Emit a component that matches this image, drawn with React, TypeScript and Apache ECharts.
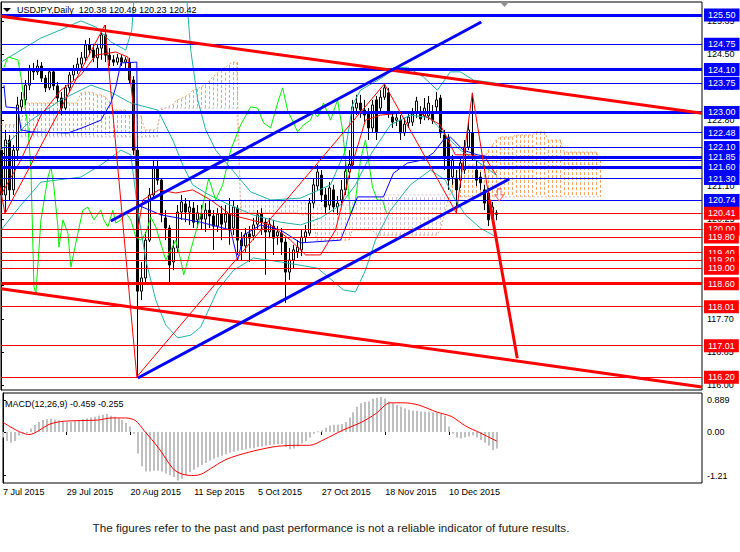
import React, { useEffect, useRef } from 'react';
import * as echarts from 'echarts';

const FONT = '"Liberation Sans", Arial, sans-serif';

const titleSymbol = 'USDJPY,Daily';
const titleOhlc = '120.38 120.49 120.23 120.42';
const macdTitle = 'MACD(12,26,9) -0.459 -0.255';
const disclaimer = 'The figures refer to the past and past performance is not a reliable indicator of future results.';

const dateLabels = ['7 Jul 2015', '29 Jul 2015', '20 Aug 2015', '11 Sep 2015', '5 Oct 2015', '27 Oct 2015', '18 Nov 2015', '10 Dec 2015'];
const dateTickIdx = [0, 16, 32, 48, 64, 80, 96, 112];
const priceTicks = [116.0, 116.85, 117.7, 118.55, 119.4, 120.25, 121.1, 121.95, 122.8, 123.65, 124.5, 125.35];
// tick labels that stay visible (the others are fully covered by level tags)
const priceTickLabels = [116.0, 116.85, 117.7, 120.25, 121.1, 122.8, 123.65, 124.5, 125.35];
const macdTicks = [0.889, 0.0, -1.21];
const macdTickText = ['0.889', '0.00', '-1.21'];

// open, close, low, high
const candles = [
  [122.03, 120.88, 120.42, 122.68], [120.88, 122.29, 120.40, 122.55], [122.29, 121.01, 120.75, 122.42], [121.01, 122.03, 120.88, 122.16],
  [122.03, 123.19, 121.78, 123.40], [123.14, 123.32, 123.01, 123.52], [123.32, 123.70, 123.19, 123.83], [123.70, 124.09, 123.57, 124.22],
  [124.09, 124.04, 123.83, 124.27], [124.04, 124.19, 123.96, 124.35], [124.19, 123.88, 123.78, 124.29], [123.88, 123.63, 123.52, 123.96],
  [123.63, 124.04, 123.57, 124.14], [124.04, 123.68, 123.57, 124.09], [123.68, 123.37, 123.27, 123.78], [123.37, 123.11, 122.93, 123.52],
  [123.11, 123.63, 123.06, 123.70], [123.63, 123.96, 123.52, 124.04], [123.96, 124.09, 123.83, 124.22], [124.09, 124.24, 123.99, 124.40],
  [124.24, 124.40, 124.14, 124.55], [124.40, 124.73, 124.29, 124.86], [124.73, 124.60, 124.47, 124.91], [124.60, 124.40, 124.29, 124.76],
  [124.40, 124.65, 124.09, 124.76], [124.65, 124.99, 124.35, 125.12], [124.99, 124.47, 124.29, 125.24], [124.47, 124.35, 124.19, 124.65],
  [124.35, 124.29, 124.19, 124.47], [124.29, 124.40, 124.22, 124.50], [124.40, 124.29, 124.19, 124.47], [124.29, 124.35, 124.14, 124.42],
  [124.29, 123.83, 123.73, 124.40], [123.83, 122.03, 121.91, 123.93], [122.03, 118.41, 116.21, 122.16], [118.41, 118.75, 118.18, 119.16],
  [118.75, 119.72, 118.57, 119.93], [119.72, 120.88, 119.67, 121.06], [120.88, 121.57, 120.80, 121.78], [121.57, 121.26, 121.14, 121.78],
  [121.26, 120.37, 120.18, 121.31], [120.29, 120.03, 119.72, 120.49], [120.03, 119.08, 118.62, 120.11], [119.16, 119.52, 118.95, 119.72],
  [119.52, 120.44, 119.42, 120.62], [120.44, 120.70, 120.24, 120.88], [120.65, 120.44, 120.18, 120.80], [120.44, 120.57, 120.11, 120.75],
  [120.54, 120.18, 120.03, 120.70], [120.24, 120.42, 120.03, 120.62], [120.39, 120.26, 119.98, 120.62], [120.26, 120.49, 119.93, 120.67],
  [120.49, 120.34, 120.03, 120.75], [120.34, 120.08, 119.47, 120.49], [120.08, 120.39, 119.93, 120.54], [120.39, 120.13, 119.72, 120.60],
  [120.18, 120.39, 120.03, 120.62], [120.39, 119.98, 119.60, 120.80], [120.03, 120.57, 119.85, 120.75], [120.54, 119.72, 119.34, 120.62],
  [119.72, 119.57, 119.21, 119.93], [119.57, 119.88, 119.42, 120.03], [119.88, 119.77, 119.16, 120.08], [119.83, 120.11, 119.72, 120.29],
  [120.13, 120.37, 119.98, 120.49], [120.39, 120.18, 119.85, 120.54], [120.18, 119.93, 118.83, 120.29], [119.93, 120.13, 119.77, 120.29],
  [120.08, 119.77, 119.34, 120.24], [119.83, 119.93, 119.60, 120.08], [119.90, 119.67, 119.34, 120.03], [119.67, 118.90, 118.11, 119.77],
  [118.90, 119.21, 118.70, 119.52], [119.21, 119.47, 119.00, 119.60], [119.42, 119.54, 119.26, 119.72], [119.47, 119.80, 119.31, 119.98],
  [119.80, 119.93, 119.67, 120.11], [119.90, 120.67, 119.83, 120.80], [120.67, 121.14, 120.54, 121.31], [121.11, 121.47, 121.01, 121.65],
  [121.39, 120.88, 120.70, 121.52], [120.88, 120.57, 120.37, 121.06], [120.62, 121.06, 120.49, 121.21], [121.01, 120.57, 120.44, 121.14],
  [120.57, 120.67, 120.37, 120.85], [120.75, 121.01, 120.62, 121.26], [121.01, 121.49, 120.88, 121.78], [121.47, 121.67, 121.31, 122.03],
  [121.65, 123.14, 121.57, 123.32], [123.11, 123.24, 122.93, 123.45], [123.24, 123.06, 122.86, 123.45], [123.06, 122.93, 122.75, 123.32],
  [123.01, 122.60, 122.29, 123.11], [122.60, 123.19, 122.50, 123.32], [123.32, 122.50, 122.29, 123.42], [123.11, 123.39, 123.01, 123.57],
  [123.39, 123.63, 123.32, 123.73], [123.50, 123.01, 122.86, 123.63], [122.88, 122.75, 122.60, 123.01], [122.80, 122.86, 122.65, 122.96],
  [122.80, 122.47, 122.29, 122.93], [122.47, 122.70, 122.39, 122.86], [122.73, 122.88, 122.60, 123.01], [122.75, 122.96, 122.65, 123.11],
  [122.98, 123.29, 122.86, 123.40], [123.01, 122.83, 122.70, 123.16], [122.91, 123.11, 122.80, 123.37], [122.91, 123.24, 122.80, 123.42],
  [122.98, 122.80, 122.70, 123.19], [123.14, 123.32, 123.01, 123.52], [123.37, 122.47, 122.34, 123.45], [122.42, 121.88, 121.52, 122.55],
  [122.34, 121.26, 121.01, 122.44], [121.34, 121.78, 121.14, 121.91], [121.31, 121.01, 120.42, 121.52], [121.26, 121.70, 121.06, 121.83],
  [121.52, 122.11, 121.42, 122.29], [122.11, 122.55, 122.03, 122.75], [122.47, 121.91, 121.78, 123.50], [121.52, 121.26, 121.11, 121.78],
  [121.34, 121.19, 121.01, 121.47], [121.01, 120.67, 120.49, 121.14], [120.93, 120.24, 120.08, 121.06], [120.29, 120.57, 120.13, 120.70],
  [120.38, 120.42, 120.23, 120.49],
];

// Ichimoku cloud spans, one value per bar (cloud runs 26 bars ahead)
const spanA = [
  122.68, 122.68, 122.68, 122.68, 122.68, 122.68, 123.24, 123.24, 123.24, 123.24,
  123.24, 123.24, 123.24, 123.24, 123.24, 123.24, 123.24, 123.24, 123.24, 123.24,
  123.50, 123.52, 123.52, 123.50, 123.45, 123.45, 123.40, 123.30, 123.06, 123.06,
  123.06, 123.06, 122.91, 122.91, 122.91, 122.91, 122.55, 122.55, 122.55, 122.55,
  123.06, 123.10, 123.15, 123.20, 123.32, 123.35, 123.40, 123.45, 123.57, 123.60,
  123.65, 123.70, 123.80, 123.90, 124.00, 124.09, 124.15, 124.22, 124.29, 124.29,
  120.42, 120.42, 120.42, 120.42, 120.42, 120.42, 120.42, 120.42, 120.42, 120.42,
  120.42, 120.42, 120.42, 120.42, 120.42, 120.37, 120.37, 120.37, 120.37, 119.72,
  119.72, 119.72, 119.72, 119.72, 119.72, 119.72, 119.72, 119.72, 119.98, 119.98,
  119.98, 119.98, 119.98, 119.98, 119.85, 119.85, 119.85, 119.85, 119.85, 119.85,
  119.85, 119.85, 119.85, 119.85, 119.85, 119.85, 119.85, 119.85, 119.85, 119.85,
  119.98, 120.37, 120.75, 121.14, 121.39, 121.65, 121.65, 121.65, 121.65, 121.65,
  121.65, 121.78, 122.03, 122.16, 122.29, 122.37, 122.37, 122.37, 122.37, 122.42,
  122.42, 122.42, 122.42, 122.42, 122.50, 122.50, 122.50, 122.29, 122.29, 122.29,
  122.29, 121.98, 121.98, 121.98, 121.98, 121.98, 121.98, 121.98, 121.98, 121.98,
  121.78,
];
const spanB = [
  122.37, 122.37, 122.37, 122.37, 122.37, 122.37, 122.37, 122.37, 122.37, 122.37,
  122.37, 122.37, 122.37, 122.37, 122.37, 122.37, 122.37, 122.37, 122.37, 122.37,
  122.37, 122.37, 122.37, 122.37, 122.37, 122.37, 122.37, 122.37, 122.37, 122.37,
  122.37, 122.37, 122.37, 122.37, 122.37, 122.37, 122.37, 122.37, 122.37, 122.37,
  123.11, 123.11, 123.11, 123.11, 123.11, 123.11, 123.11, 123.11, 123.11, 123.11,
  123.11, 123.11, 123.11, 123.11, 123.11, 123.11, 123.11, 123.11, 123.11, 123.11,
  120.75, 120.75, 120.75, 120.75, 120.75, 120.75, 120.75, 120.75, 120.75, 120.75,
  120.75, 120.75, 120.75, 120.75, 120.75, 120.70, 120.70, 120.70, 120.70, 120.62,
  120.62, 120.62, 120.62, 120.62, 120.62, 120.62, 120.62, 120.62, 120.75, 120.75,
  120.75, 120.75, 120.75, 120.75, 120.88, 120.88, 120.88, 120.88, 120.88, 120.88,
  120.88, 120.88, 120.88, 120.88, 120.88, 120.88, 120.88, 120.88, 120.88, 120.88,
  120.88, 120.88, 120.88, 120.88, 120.88, 120.83, 120.83, 120.83, 120.83, 120.83,
  120.83, 120.83, 120.83, 120.83, 120.83, 120.83, 120.83, 120.83, 120.83, 120.83,
  120.83, 120.83, 120.83, 120.83, 120.83, 120.83, 120.83, 120.83, 120.83, 120.83,
  120.83, 120.83, 120.83, 120.83, 120.83, 120.83, 120.83, 120.83, 120.83, 120.83,
  120.83,
];

// indicator curves: [bar, price]
const bbUpper = [[0, 124.29], [5, 124.6], [10, 124.91], [15, 125.12], [20, 125.35], [23.75, 125.19], [27.5, 124.81], [31.25, 124.6], [32.75, 125.12], [34, 126.91], [45.75, 126.91], [47.5, 124.6], [49.25, 123.32], [51.25, 122.55], [53.75, 122.03], [57.5, 121.57], [62.5, 120.96], [67.5, 120.75], [75, 120.8], [82.5, 121.14], [86.25, 122.03], [88, 123.19], [90, 123.57], [95.75, 123.91], [98.25, 124.14], [101.75, 124.16], [105.75, 123.91], [109.25, 123.57], [112.5, 124.04], [115, 124.04], [118.25, 123.83], [124, 123.75]];
const bbMiddle = [[0, 122.03], [7.5, 122.8], [15, 123.32], [22.5, 123.7], [27.5, 123.52], [32.5, 123.24], [39.25, 123.06], [43, 122.29], [45.5, 121.65], [48, 121.14], [51.25, 120.93], [56.25, 120.67], [63, 120.37], [70, 120.18], [75, 120.11], [80, 120.29], [85, 120.62], [88.75, 121.14], [92.5, 121.91], [97.5, 122.68], [102.5, 122.93], [107.5, 122.86], [111.25, 122.42], [115, 122.03], [118.75, 121.78], [124, 121.39]];
const bbLower = [[0, 119.98], [5, 120.62], [10, 121.21], [20, 121.34], [25, 121.65], [30, 122.03], [32.5, 121.91], [34.25, 120.49], [36.25, 119.21], [38.75, 118.18], [41.25, 117.54], [44.25, 117.21], [47.5, 117.28], [50, 117.49], [54.25, 118.44], [58.25, 118.95], [63.25, 119.26], [70, 119.16], [79.25, 119.0], [85.75, 118.44], [88.75, 118.39], [91.25, 118.95], [93.75, 119.72], [97.5, 120.49], [102.5, 121.14], [107.5, 121.52], [111.25, 121.26], [113.75, 120.75], [116.25, 120.37], [120, 120.03], [124, 119.8]];
const greenLine = [[0.75, 124.16], [1.75, 124.42], [4.25, 124.35], [5, 123.91], [6.75, 122.62], [7.5, 121.52], [8.25, 118.52], [8.75, 118.36], [10, 120.24], [11.75, 121.34], [12.5, 121.6], [13.25, 121.08], [14.25, 120.06], [14.5, 119.54], [15.5, 120.24], [16.75, 119.9], [17.5, 119.03], [19.25, 119.9], [20.5, 120.49], [21.75, 120.57], [23.25, 120.24], [25, 120.49], [25.75, 120.24], [26.75, 120.06], [28, 120.49], [28.75, 120.16], [30, 120.24], [31.25, 120.42], [32.5, 120.24], [33.75, 119.8], [35, 119.72], [36.25, 119.9], [37.5, 120.31], [38.75, 120.06], [41.25, 119.21], [43.75, 119.72], [45, 119.21], [45.75, 118.83], [48, 119.65], [50, 120.37], [52, 121.31], [53.75, 120.75], [55.5, 121.14], [57.5, 122.03], [60, 122.68], [62.5, 123.14], [64.25, 123.11], [65.75, 122.73], [67.5, 122.6], [69.25, 123.24], [70.5, 123.63], [71.75, 123.06], [74.25, 122.5], [75.75, 122.68], [77.5, 122.8], [78.25, 123.01], [79.25, 122.88], [80.75, 123.24], [82.5, 122.8], [84.25, 123.32], [85.5, 122.55], [86.5, 121.52], [87.5, 120.37], [88.75, 120.75], [90, 121.78], [91.25, 122.29], [92, 121.78], [93, 121.08], [94.25, 120.75], [95.5, 120.75], [96.5, 120.42]];
const redAverage = [[0, 120.88], [5, 121.78], [10, 122.93], [15, 123.57], [20, 123.96], [23.75, 124.47], [28.75, 124.55], [31.75, 124.42], [33.25, 123.06], [34.25, 119.98], [35.5, 120.75], [39.5, 121.01], [43.75, 120.93], [48, 121.01], [52.5, 120.75], [57.5, 120.37], [62.5, 120.24], [67.5, 120.11], [72.5, 119.72], [76.25, 119.34], [80, 119.34], [83.75, 119.98], [87.5, 121.52], [91.25, 122.8], [95, 122.93], [100, 122.98], [105, 122.98], [110, 122.68], [113.75, 121.91], [117.5, 121.91], [121.25, 121.83], [124, 121.39]];
const blueAverage = [[0.75, 123.7], [1.25, 123.14], [4.25, 123.11], [5, 122.55], [7.5, 122.5], [16.75, 122.47], [20.75, 122.62], [25, 122.8], [27.5, 123.24], [28.75, 123.65], [30, 124.27], [34, 124.29], [34.25, 120.62], [40, 120.37], [50, 120.18], [57.5, 119.98], [59.25, 119.21], [60.75, 119.85], [65, 120.11], [70, 119.98], [75, 119.65], [85, 119.72], [87.5, 120.37], [89.25, 120.83], [95.75, 120.83], [98.25, 121.44], [101.75, 121.7], [105.75, 121.78], [108.25, 121.96], [110.75, 122.29], [112.5, 122.37], [115.75, 122.03], [119.25, 121.91], [124, 121.83]];

// trend lines and zigzag: [bar, price]
const redUpperTrend = [[0, 125.47], [175.5, 122.98]];
const redLowerTrend = [[0, 118.47], [175.5, 115.95]];
const blueUpperChannel = [[27.5, 120.21], [120.25, 125.32]];
const blueLowerChannel = [[34.25, 116.18], [127.25, 121.29]];
const zigzag = [[-1, 121.5], [1, 120.4], [26, 125.24], [34, 116.21], [96, 123.73], [114, 120.42], [118, 123.5], [122.25, 120.76]];
const projection = [[122.25, 120.76], [129.25, 116.69]];
const sellArrow = [[124.75, 120.88]];

// horizontal levels
const blueLevels = [125.5, 124.75, 124.1, 123.75, 123.0, 122.48, 122.1, 121.85, 121.78, 121.6, 121.3, 120.74];
const redLevels = [120.41, 120.0, 119.8, 119.4, 119.2, 119.0, 118.6, 118.01, 117.01, 116.2];
const thickLevels = [125.5, 124.1, 123.0, 121.85, 121.6, 118.6];
const unlabeledLevels = [121.78];

// MACD
const macdHist = [
  -0.15, -0.25, -0.30, -0.25, -0.10, -0.05, 0.00, 0.10, 0.20, 0.28,
  0.33, 0.36, 0.37, 0.35, 0.32, 0.28, 0.27, 0.28, 0.30, 0.32,
  0.35, 0.38, 0.40, 0.42, 0.45, 0.48, 0.50, 0.45, 0.42, 0.38,
  0.33, 0.25, 0.15, -0.05, -0.60, -0.95, -1.10, -1.10, -1.08, -1.08,
  -1.10, -1.15, -1.20, -1.25, -1.35, -1.30, -1.20, -1.12, -1.05, -0.98,
  -0.92, -0.86, -0.80, -0.74, -0.70, -0.66, -0.62, -0.58, -0.55, -0.52,
  -0.50, -0.48, -0.45, -0.45, -0.42, -0.40, -0.38, -0.36, -0.35, -0.34,
  -0.33, -0.42, -0.48, -0.46, -0.40, -0.32, -0.25, -0.15, -0.05, 0.02,
  0.05, 0.12, 0.18, 0.20, 0.20, 0.22, 0.28, 0.40, 0.55, 0.70,
  0.80, 0.83, 0.85, 0.92, 0.95, 0.97, 0.93, 0.85, 0.80, 0.75,
  0.70, 0.65, 0.62, 0.60, 0.58, 0.57, 0.56, 0.56, 0.55, 0.55,
  0.50, 0.45, 0.15, -0.05, -0.15, -0.18, -0.15, -0.12, -0.10, -0.15,
  -0.22, -0.30, -0.38, -0.50, -0.46,
];
const macdSignal = [[0, 0.27], [6.5, -0.07], [11.8, 0.22], [15.4, 0.3], [23.7, 0.33], [27.3, 0.39], [30.8, 0.39], [33.2, 0.32], [35.5, 0.03], [39.1, -0.45], [42.7, -1.02], [45, -1.17], [48, -1.21], [49.8, -1.17], [52.1, -1.02], [55.7, -0.78], [59.2, -0.64], [64, -0.5], [68.7, -0.4], [73.5, -0.37], [77, -0.37], [80.6, -0.21], [85.3, 0.05], [90, 0.27], [93.6, 0.51], [97.2, 0.81], [100.7, 0.81], [104.3, 0.75], [109, 0.55], [112.6, 0.43], [116.1, 0.17], [119.7, -0.02], [124, -0.255]];

const X_MAX = 175.5;

export default function App() {
  const ref = useRef<HTMLDivElement>(null);

  useEffect(() => {
    const chart = echarts.init(ref.current as HTMLDivElement, null, { renderer: 'svg' });

    const candleData = candles.map((r, i) => [i, r[0], r[1], r[2], r[3]]);
    const cloudData = spanA.map((a, i) => [i, a, spanB[i]]);
    const histData = macdHist.map((v, i) => [i, v]);

    const line = (data: number[][], color: string, width: number, z: number, extra: any = {}) => ({
      type: 'line', data, xAxisIndex: 0, yAxisIndex: 0, symbol: 'none', silent: true,
      lineStyle: { color, width }, z, clip: true, ...extra,
    });

    const levelMark = (v: number, color: string) => ({
      yAxis: v,
      lineStyle: { color, width: thickLevels.includes(v) ? 3 : 1, type: 'solid' },
      label: unlabeledLevels.includes(v)
        ? { show: false }
        : {
            show: true, position: 'end', distance: 2, formatter: v.toFixed(2),
            backgroundColor: color, color: '#ffffff', fontSize: 9, fontFamily: FONT,
            padding: [2, 4, 1, 4], lineHeight: 10,
          },
    });

    const levelSeries = (levels: number[], color: string) => ({
      type: 'line', data: [[0, 120]], xAxisIndex: 0, yAxisIndex: 0, symbol: 'none', silent: true,
      lineStyle: { opacity: 0 }, z: 6,
      markLine: { silent: true, symbol: ['none', 'none'], animation: false, data: levels.map((v) => levelMark(v, color)) },
    });

    const option: any = {
      animation: false,
      backgroundColor: '#ffffff',
      grid: [
        { left: 1, right: 38, top: 2, height: 388, show: true, borderColor: '#000', borderWidth: 1, backgroundColor: '#fff' },
        { left: 1, right: 38, top: 393, height: 90, show: true, borderColor: '#000', borderWidth: 1, backgroundColor: '#fff' },
      ],
      xAxis: [
        { type: 'value', gridIndex: 0, min: 0, max: X_MAX, show: false },
        {
          type: 'value', gridIndex: 1, min: 0, max: X_MAX,
          axisLine: { show: false }, splitLine: { show: false },
          axisTick: { show: true, customValues: dateTickIdx, length: 3, lineStyle: { color: '#000' } },
          axisLabel: {
            customValues: dateTickIdx, align: 'left', margin: 4, fontSize: 9, fontFamily: FONT, color: '#000',
            formatter: (v: number) => { const k = dateTickIdx.indexOf(Math.round(v)); return k >= 0 ? dateLabels[k] : ''; },
          },
        },
      ],
      yAxis: [
        {
          type: 'value', gridIndex: 0, position: 'right', min: 115.872, max: 125.834,
          splitLine: { show: false }, axisLine: { show: true, lineStyle: { color: '#000' } },
          axisTick: { show: true, customValues: priceTicks, length: 3, lineStyle: { color: '#000' } },
          axisLabel: { customValues: priceTickLabels, formatter: (v: number) => v.toFixed(2), fontSize: 9, fontFamily: FONT, color: '#000', margin: 5 },
        },
        {
          type: 'value', gridIndex: 1, position: 'right', min: -1.417, max: 1.083,
          splitLine: { show: false }, axisLine: { show: true, lineStyle: { color: '#000' } },
          axisTick: { show: true, customValues: macdTicks, length: 3, lineStyle: { color: '#000' } },
          axisLabel: {
            customValues: macdTicks, fontSize: 9, fontFamily: FONT, color: '#000', margin: 5,
            formatter: (v: number) => {
              let best = 0;
              macdTicks.forEach((t, k) => { if (Math.abs(t - v) < Math.abs(macdTicks[best] - v)) best = k; });
              return macdTickText[best];
            },
          },
        },
      ],
      series: [
        {
          type: 'custom', xAxisIndex: 0, yAxisIndex: 0, z: 1, silent: true, data: cloudData,
          encode: { x: 0, y: [1, 2] },
          renderItem: (params: any, api: any) => {
            const i = api.value(0), a = api.value(1), b = api.value(2);
            const pa = api.coord([i, a]);
            const pb = api.coord([i, b]);
            const x = Math.round(pa[0]) + 0.5;
            return {
              type: 'line', shape: { x1: x, y1: pa[1], x2: x, y2: pb[1] },
              style: { stroke: a >= b ? '#f4a460' : '#d8bfd8', lineWidth: 1, lineDash: [3, 2] },
            };
          },
        },
        line(spanA.map((v, i) => [i, v]), '#f4a460', 1, 1, { lineStyle: { color: '#f4a460', width: 1, type: [2, 2] } }),
        line(spanB.map((v, i) => [i, v]), '#d8bfd8', 1, 1, { lineStyle: { color: '#d8bfd8', width: 1, type: [2, 2] } }),
        {
          type: 'custom', xAxisIndex: 0, yAxisIndex: 0, z: 3, silent: true, data: candleData,
          encode: { x: 0, y: [1, 2, 3, 4] },
          renderItem: (params: any, api: any) => {
            const i = api.value(0), o = api.value(1), c = api.value(2), l = api.value(3), h = api.value(4);
            const pO = api.coord([i, o]);
            const pC = api.coord([i, c]);
            const pL = api.coord([i, l]);
            const pH = api.coord([i, h]);
            const r = Math.round(pO[0]);
            const top = Math.min(pO[1], pC[1]);
            const bot = Math.max(pO[1], pC[1]);
            const bull = c >= o;
            return {
              type: 'group',
              children: [
                { type: 'line', shape: { x1: r + 0.5, y1: pH[1], x2: r + 0.5, y2: pL[1] }, style: { stroke: '#000', lineWidth: 1 } },
                { type: 'rect', shape: { x: r - 0.5, y: top, width: 2, height: Math.max(bot - top, 1) }, style: { fill: bull ? '#fff' : '#000', stroke: '#000', lineWidth: 1 } },
              ],
            };
          },
        },
        line(bbUpper, '#20b2aa', 1, 4),
        line(bbMiddle, '#20b2aa', 1, 4),
        line(bbLower, '#20b2aa', 1, 4),
        line(greenLine, '#00ee00', 1, 4),
        line(redAverage, '#ff0000', 1, 4),
        line(blueAverage, '#0000ff', 1, 4),
        levelSeries(blueLevels, '#0000ff'),
        levelSeries(redLevels, '#ff0000'),
        line(redUpperTrend, '#ff0000', 3, 7),
        line(redLowerTrend, '#ff0000', 3, 7),
        line(blueUpperChannel, '#0000ff', 3, 7),
        line(blueLowerChannel, '#0000ff', 3, 7),
        line(zigzag, '#ff0000', 1, 7),
        line(projection, '#ff0000', 3, 7),
        {
          type: 'scatter', xAxisIndex: 0, yAxisIndex: 0, z: 8, silent: true, data: sellArrow,
          symbol: 'path://M3,0 L7,0 L7,6 L10,6 L5,12 L0,6 L3,6 Z', symbolSize: [9, 12],
          itemStyle: { color: '#ffffff', borderColor: '#ff4040', borderWidth: 1 },
        },
        {
          type: 'custom', xAxisIndex: 1, yAxisIndex: 1, z: 2, silent: true, data: histData,
          encode: { x: 0, y: 1 },
          renderItem: (params: any, api: any) => {
            const i = api.value(0), v = api.value(1);
            const p0 = api.coord([i, 0]);
            const p1 = api.coord([i, v]);
            const r = Math.round(p0[0]);
            return {
              type: 'rect',
              shape: { x: r - 1, y: Math.min(p0[1], p1[1]), width: 2, height: Math.max(Math.abs(p1[1] - p0[1]), 1) },
              style: { fill: '#c0c0c0' },
            };
          },
        },
        {
          type: 'line', xAxisIndex: 1, yAxisIndex: 1, data: macdSignal, symbol: 'none', smooth: 0.3, silent: true,
          lineStyle: { color: '#ff0000', width: 1 }, z: 3,
        },
      ],
      graphic: [
        { type: 'polygon', shape: { points: [[3, 8], [11, 8], [7, 12]] }, style: { fill: '#000' }, z: 20 },
        { type: 'text', x: 17, y: 10, z: 20, style: { text: `${titleSymbol}  ${titleOhlc}`, fill: '#000', font: `9px ${FONT}`, verticalAlign: 'middle' } },
        { type: 'polygon', shape: { points: [[500, 2], [509, 2], [504.5, 7]] }, style: { fill: '#909090' }, z: 20 },
        { type: 'text', x: 5, y: 404, z: 20, style: { text: macdTitle, fill: '#000', font: `9px ${FONT}`, verticalAlign: 'middle' } },
        { type: 'text', x: 331, y: 527, z: 20, style: { text: disclaimer, fill: '#222', font: `11.7px ${FONT}`, align: 'center', verticalAlign: 'middle' } },
      ],
    };

    chart.setOption(option);
    return () => chart.dispose();
  }, []);

  return (
    <div
      ref={ref}
      style={{ position: 'fixed', left: 0, top: 0, width: 740, height: 552, background: '#fff' }}
    />
  );
}
